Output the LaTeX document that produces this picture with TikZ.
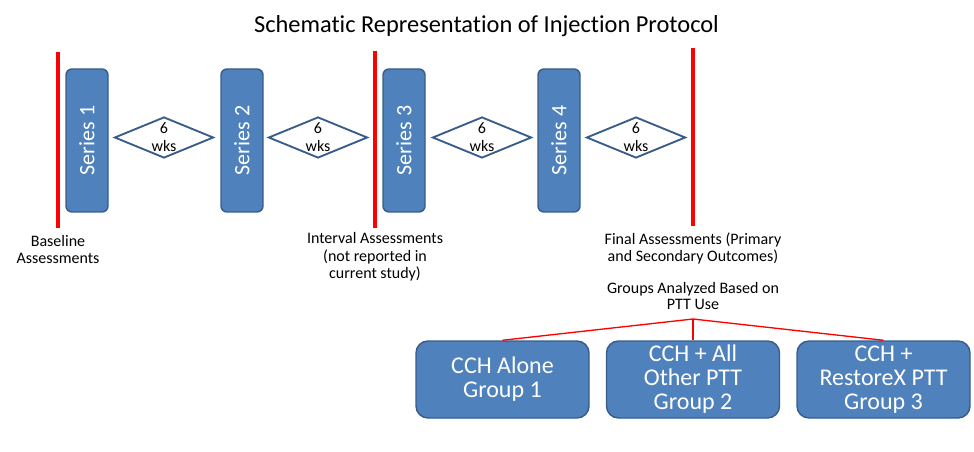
\documentclass[tikz,border=0pt]{standalone}
\usepackage{fontspec}
\setmainfont{Carlito}[Ligatures=NoCommon]
\usepackage{tikz}
\usetikzlibrary{shapes.geometric, positioning}
\definecolor{boxblue}{HTML}{4F81BD}
\definecolor{boxedge}{HTML}{385D8A}
\tikzstyle{series} = [rectangle, rounded corners=4.5pt, rotate=90, minimum width=107.25pt, minimum height=31.5pt, fill=boxblue, draw=boxedge, line width=1.1pt, text=white, font=\fontsize{16.5}{18}\selectfont]
\tikzstyle{gap} = [diamond, aspect=2.4, inner sep=0pt, minimum width=74.25pt, minimum height=30.75pt, draw=boxedge, line width=1.4pt, fill=white, align=center, font=\fontsize{12}{13.5}\selectfont]
\tikzstyle{bar} = [red, line width=3pt]
\tikzstyle{link} = [red, line width=1pt]
\tikzset{
  groupbox/.style={draw=boxedge, fill=boxblue, line width=1.1pt, rectangle, rounded corners=9pt, align=center, text=white, minimum width=129.75pt, minimum height=57.75pt, inner sep=0pt, font=\fontsize{18}{18}\selectfont},
  note/.style={align=center, inner sep=0pt, anchor=base, font=\fontsize{12}{12.75}\selectfont}
}

\begin{document}
\begin{tikzpicture}[x=0.75pt, y=-0.75pt]
    \useasboundingbox (0,0) rectangle (974,452);
    % title
    \node (title) [anchor=base, inner sep=0pt, font=\fontsize{18.3}{20}\selectfont] at (486.5,33) {Schematic Representation of Injection Protocol};
    % assessment bars
    \draw [bar] (58,52) -- (58,228);
    \draw [bar] (375,51) -- (375,228);
    \draw [bar] (693,48) -- (693,226);
    % nodes
    \node (Series1) [series] at (87,140.5) {Series 1};
    \node (Wait1)   [gap] at (164,137.5) {6\\wks};
    \node (Series2) [series] at (242,140.5) {Series 2};
    \node (Wait2)   [gap] at (318,137.5) {6\\wks};
    \node (Series3) [series] at (404,140.5) {Series 3};
    \node (Wait3)   [gap] at (482,137.5) {6\\wks};
    \node (Series4) [series] at (559,140.5) {Series 4};
    \node (Wait4)   [gap] at (636,137.5) {6\\wks};
    % notes (base = last line)
    \node (Baseline) [note] at (58,263) {Baseline\\Assessments};
    \node (Interval) [note] at (375,278) {Interval Assessments\\(not reported in\\current study)};
    \node (Final)    [note] at (693,262) {Final Assessments (Primary\\and Secondary Outcomes)};
    \node (Groups)   [note] at (693,310) {Groups Analyzed Based on\\PTT Use};
    % groups
    \node (Group1) [groupbox] at (502.5,379.5) {CCH Alone\\Group 1};
    \node (Group2) [groupbox] at (693,379.5) {CCH + All\\Other PTT\\Group 2};
    \node (Group3) [groupbox] at (883.5,379.5) {CCH +\\RestoreX PTT\\Group 3};
    % links
    \coordinate (Split) at (693,319);
    \draw [link] (Split) -- (Group1.north);
    \draw [link] (Split) -- (Group2.north);
    \draw [link] (Split) -- (Group3.north);
\end{tikzpicture}
\end{document}
